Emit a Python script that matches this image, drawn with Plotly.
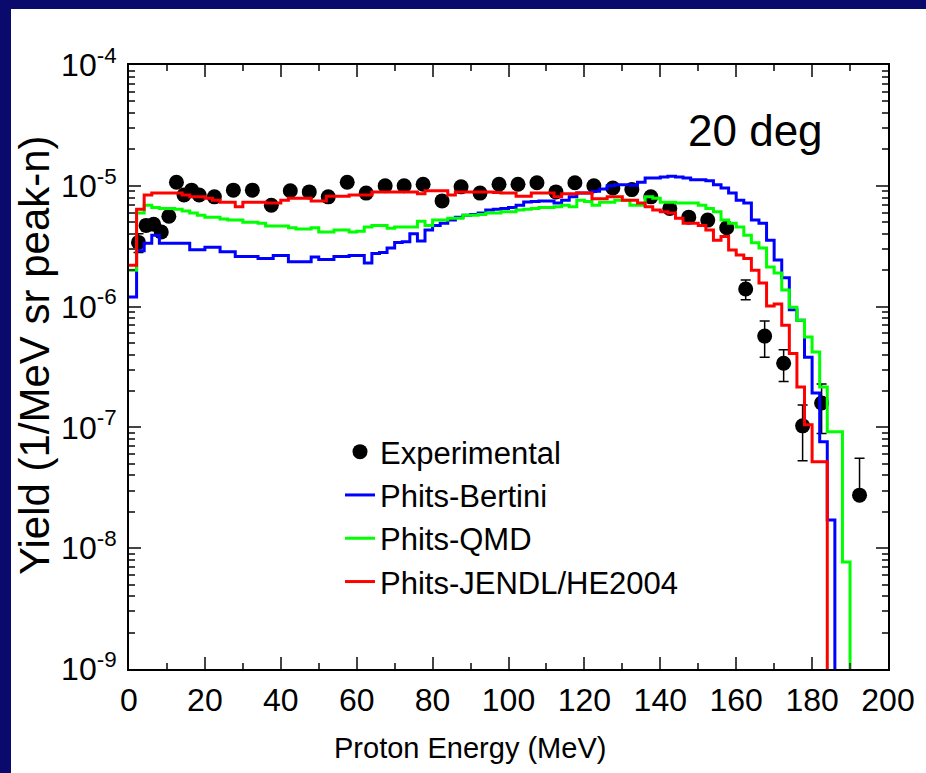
import plotly.graph_objects as go

# ---------------- data ----------------
bin_width = 2.0  # MeV

bertini = [1.2e-6, 2.9e-6, 3.35e-6, 3.9e-6, 3.35e-6, 3.35e-6, 3.35e-6, 3.35e-6, 2.95e-6, 2.95e-6,
           3.1e-6, 3.1e-6, 2.85e-6, 2.85e-6, 2.6e-6, 2.6e-6, 2.6e-6, 2.5e-6, 2.5e-6, 2.65e-6,
           2.65e-6, 2.35e-6, 2.35e-6, 2.35e-6, 2.58e-6, 2.45e-6, 2.45e-6, 2.6e-6, 2.6e-6, 2.65e-6,
           2.65e-6, 2.3e-6, 2.75e-6, 2.8e-6, 3.05e-6, 3.4e-6, 3.45e-6, 4.0e-6, 3.5e-6, 4.3e-6,
           4.7e-6, 4.9e-6, 5.2e-6, 5.5e-6, 5.7e-6, 5.8e-6, 5.95e-6, 6.3e-6, 6.4e-6, 6.5e-6,
           6.6e-6, 6.9e-6, 7.35e-6, 7.4e-6, 7.5e-6, 7.5e-6, 7.2e-6, 7.6e-6, 8.1e-6, 8.7e-6,
           8.7e-6, 9.0e-6, 9.4e-6, 1.0e-5, 1.02e-5, 1.02e-5, 1.01e-5, 1.07e-5, 1.16e-5, 1.16e-5,
           1.18e-5, 1.2e-5, 1.18e-5, 1.16e-5, 1.12e-5, 1.12e-5, 1.1e-5, 1.02e-5, 9.6e-6, 8.7e-6,
           7.6e-6, 7.2e-6, 5.2e-6, 4.9e-6, 3.55e-6, 2.43e-6, 1.73e-6, 9.4e-7, 7.7e-7, 3.8e-7,
           1.93e-7, 7.6e-8, 1.71e-8, 0.0]

qmd = [2.0e-6, 5.96e-6, 6.9e-6, 6.6e-6, 6.5e-6, 6.5e-6, 6.4e-6, 6.2e-6, 5.96e-6, 5.7e-6,
       5.5e-6, 5.5e-6, 5.3e-6, 5.2e-6, 5.2e-6, 5.0e-6, 5.0e-6, 4.9e-6, 4.65e-6, 4.65e-6,
       4.65e-6, 4.5e-6, 4.39e-6, 4.39e-6, 4.5e-6, 4.15e-6, 4.15e-6, 4.3e-6, 4.3e-6, 4.15e-6,
       4.2e-6, 4.55e-6, 4.7e-6, 4.7e-6, 4.45e-6, 4.55e-6, 4.55e-6, 4.55e-6, 5.1e-6, 4.7e-6,
       5.2e-6, 5.2e-6, 5.4e-6, 5.4e-6, 5.7e-6, 5.7e-6, 5.8e-6, 5.96e-6, 5.96e-6, 6.1e-6,
       6.1e-6, 6.3e-6, 6.4e-6, 6.5e-6, 6.6e-6, 6.6e-6, 6.7e-6, 6.9e-6, 6.7e-6, 7.6e-6,
       7.4e-6, 6.9e-6, 7.3e-6, 7.3e-6, 7.6e-6, 7.6e-6, 6.9e-6, 6.9e-6, 8.1e-6, 7.9e-6,
       7.3e-6, 7.3e-6, 7.2e-6, 7.2e-6, 7.2e-6, 6.9e-6, 6.5e-6, 6.1e-6, 5.2e-6, 4.9e-6,
       4.55e-6, 3.9e-6, 3.37e-6, 3.05e-6, 2.13e-6, 1.9e-6, 1.37e-6, 9.9e-7, 7.7e-7, 5.6e-7,
       4.2e-7, 2.16e-7, 9.2e-8, 9.2e-8, 7.7e-9, 0.0]

jendl = [2.2e-6, 6.4e-6, 8.4e-6, 8.7e-6, 8.7e-6, 8.7e-6, 8.7e-6, 8.4e-6, 8.1e-6, 8.1e-6,
         7.9e-6, 7.6e-6, 7.3e-6, 7.3e-6, 6.7e-6, 7.3e-6, 7.3e-6, 7.3e-6, 7.2e-6, 7.2e-6,
         7.6e-6, 7.9e-6, 7.9e-6, 7.9e-6, 7.5e-6, 7.5e-6, 8.2e-6, 8.2e-6, 8.2e-6, 8.4e-6,
         8.4e-6, 8.4e-6, 8.9e-6, 8.9e-6, 8.9e-6, 8.9e-6, 8.9e-6, 8.9e-6, 8.6e-6, 9.1e-6,
         9.1e-6, 9.1e-6, 8.4e-6, 8.9e-6, 8.9e-6, 8.9e-6, 8.9e-6, 8.9e-6, 8.8e-6, 8.7e-6,
         8.7e-6, 8.2e-6, 8.2e-6, 8.7e-6, 8.7e-6, 8.7e-6, 8.1e-6, 8.6e-6, 8.6e-6, 8.7e-6,
         8.7e-6, 7.8e-6, 7.8e-6, 8.1e-6, 8.1e-6, 7.6e-6, 7.6e-6, 7.2e-6, 6.7e-6, 6.3e-6,
         6.1e-6, 5.96e-6, 5.4e-6, 4.9e-6, 4.9e-6, 4.7e-6, 4.3e-6, 3.55e-6, 3.8e-6, 2.94e-6,
         2.67e-6, 2.5e-6, 2.0e-6, 1.57e-6, 1.01e-6, 1.05e-6, 7.0e-7, 4.1e-7, 2.16e-7, 1.05e-7,
         5.2e-8, 5.2e-8, 0.0]

exp_energy = [2.5, 4.5, 6.5, 8.5, 10.5, 12.5, 14.5, 16.5, 18.5, 22.5, 27.5, 32.5, 37.5, 42.5,
              47.5, 52.5, 57.5, 62.5, 67.5, 72.5, 77.5, 82.5, 87.5, 92.5, 97.5, 102.5, 107.5,
              112.5, 117.5, 122.5, 127.5, 132.5, 137.5, 142.5, 147.5, 152.5, 157.5, 162.5,
              167.5, 172.5, 177.5, 182.5, 192.5]
exp_yield = [3.4e-6, 4.7e-6, 4.8e-6, 4.15e-6, 5.6e-6, 1.07e-5, 8.4e-6, 9.2e-6, 8.4e-6, 8.1e-6,
             9.2e-6, 9.2e-6, 6.9e-6, 9.1e-6, 8.9e-6, 8.1e-6, 1.07e-5, 8.7e-6, 1.0e-5, 1.0e-5,
             1.03e-5, 7.5e-6, 9.8e-6, 8.7e-6, 1.03e-5, 1.03e-5, 1.06e-5, 8.9e-6, 1.06e-5, 1.0e-5,
             9.6e-6, 9.3e-6, 8.1e-6, 6.5e-6, 5.5e-6, 5.2e-6, 4.5e-6, 1.4e-6, 5.7e-7, 3.4e-7,
             1.03e-7, 1.59e-7, 2.75e-8]
# upper / lower error bars (the lowest-statistics point reaches zero, not drawn on a log axis)
exp_error_plus = [0.6e-6, 0.45e-6, 0.45e-6, 0.4e-6, 0.45e-6, 0.4e-6, 0.35e-6, 0.35e-6, 0.35e-6, 0.3e-6,
                  0.35e-6, 0.35e-6, 0.3e-6, 0.35e-6, 0.35e-6, 0.3e-6, 0.4e-6, 0.35e-6, 0.4e-6, 0.4e-6,
                  0.4e-6, 0.3e-6, 0.4e-6, 0.35e-6, 0.4e-6, 0.4e-6, 0.4e-6, 0.35e-6, 0.4e-6, 0.4e-6,
                  0.4e-6, 0.35e-6, 0.3e-6, 0.3e-6, 0.25e-6, 0.25e-6, 0.25e-6, 0.26e-6, 1.9e-7, 1.0e-7,
                  0.5e-7, 0.7e-7, 2.8e-8]
exp_error_minus = [0.6e-6, 0.45e-6, 0.45e-6, 0.4e-6, 0.45e-6, 0.4e-6, 0.35e-6, 0.35e-6, 0.35e-6, 0.3e-6,
                   0.35e-6, 0.35e-6, 0.3e-6, 0.35e-6, 0.35e-6, 0.3e-6, 0.4e-6, 0.35e-6, 0.4e-6, 0.4e-6,
                   0.4e-6, 0.3e-6, 0.4e-6, 0.35e-6, 0.4e-6, 0.4e-6, 0.4e-6, 0.35e-6, 0.4e-6, 0.4e-6,
                   0.4e-6, 0.35e-6, 0.3e-6, 0.3e-6, 0.25e-6, 0.25e-6, 0.25e-6, 0.26e-6, 1.9e-7, 1.0e-7,
                   0.5e-7, 0.7e-7, 0.0]

x_ticks = [0, 20, 40, 60, 80, 100, 120, 140, 160, 180, 200]
y_ticks = [1e-9, 1e-8, 1e-7, 1e-6, 1e-5, 1e-4]
y_ticktext = ["10<sup>-9</sup>", "10<sup>-8</sup>", "10<sup>-7</sup>", "10<sup>-6</sup>",
              "10<sup>-5</sup>", "10<sup>-4</sup>"]

# ---------------- helpers ----------------
FLOOR = 1e-15  # stand-in for zero on the log axis


def step_xy(values):
    edges = [i * bin_width for i in range(len(values))]
    ys = [v if v > 0 else FLOOR for v in values]
    return edges, ys


W, H = 926, 773
ML, MR, MT, MB = 129, 38, 65, 104
PW, PH = W - ML - MR, H - MT - MB


def px_x(p):
    return (p - ML) / PW


def px_y(p):
    return 1 - (p - MT) / PH


fig = go.Figure()

fig.add_trace(go.Scatter(
    x=exp_energy, y=exp_yield, mode="markers", name="Experimental",
    marker=dict(color="black", size=15),
    error_y=dict(type="data", symmetric=False, array=exp_error_plus, arrayminus=exp_error_minus,
                 color="black", thickness=1.5, width=5),
))

for name, vals, col in [("Phits-Bertini", bertini, "#0000ff"),
                        ("Phits-QMD", qmd, "#00ff00"),
                        ("Phits-JENDL/HE2004", jendl, "#ff0000")]:
    xs, ys = step_xy(vals)
    fig.add_trace(go.Scatter(x=xs, y=ys, mode="lines", name=name,
                             line=dict(color=col, width=3, shape="hv")))

axis_font = dict(family="Liberation Sans, Arial", size=32, color="black")

fig.update_xaxes(
    range=[0, 200], tickvals=x_ticks, ticks="inside", ticklen=12, tickwidth=2,
    showline=True, linewidth=2, linecolor="black", mirror="ticks",
    showgrid=False, zeroline=False, tickfont=axis_font, ticklabelstandoff=2,
    minor=dict(ticks="inside", ticklen=6, tickwidth=2, dtick=10, showgrid=False),
)
fig.update_yaxes(
    type="log", range=[-9, -4], tickvals=y_ticks, ticktext=y_ticktext,
    ticks="inside", ticklen=12, tickwidth=2,
    showline=True, linewidth=2, linecolor="black", mirror="ticks",
    showgrid=False, zeroline=False, tickfont=axis_font, ticklabelstandoff=4,
    minor=dict(ticks="inside", ticklen=6, tickwidth=2, dtick="D1", showgrid=False),
)

navy = "#0a0a6c"
fig.add_shape(type="rect", xref="paper", yref="paper", layer="below",
              x0=px_x(0), x1=px_x(11), y0=px_y(H), y1=px_y(0),
              fillcolor=navy, line_width=0)
fig.add_shape(type="rect", xref="paper", yref="paper", layer="below",
              x0=px_x(0), x1=px_x(W), y0=px_y(9), y1=px_y(0),
              fillcolor=navy, line_width=0)

fig.add_annotation(text="20 deg", xref="paper", yref="paper", x=px_x(755), y=px_y(130),
                   xanchor="center", yanchor="middle", showarrow=False,
                   font=dict(family="Liberation Sans, Arial", size=44, color="black"))
fig.add_annotation(text="Proton Energy (MeV)", xref="paper", yref="paper", x=px_x(470), y=px_y(748),
                   xanchor="center", yanchor="middle", showarrow=False,
                   font=dict(family="Liberation Sans, Arial", size=29, color="black"))
fig.add_annotation(text="Yield (1/MeV sr peak-n)", xref="paper", yref="paper", x=px_x(34), y=px_y(355),
                   xanchor="center", yanchor="middle", textangle=-90, showarrow=False,
                   font=dict(family="Liberation Sans, Arial", size=42, color="black"))

fig.update_layout(
    width=W, height=H,
    margin=dict(l=ML, r=MR, t=MT, b=MB),
    paper_bgcolor="white", plot_bgcolor="white",
    showlegend=True,
    legend=dict(x=px_x(340), y=px_y(425), xanchor="left", yanchor="top",
                bgcolor="rgba(0,0,0,0)", borderwidth=0,
                font=dict(family="Liberation Sans, Arial", size=31, color="black"),
                tracegroupgap=0),
)

fig.write_html("out.html")
